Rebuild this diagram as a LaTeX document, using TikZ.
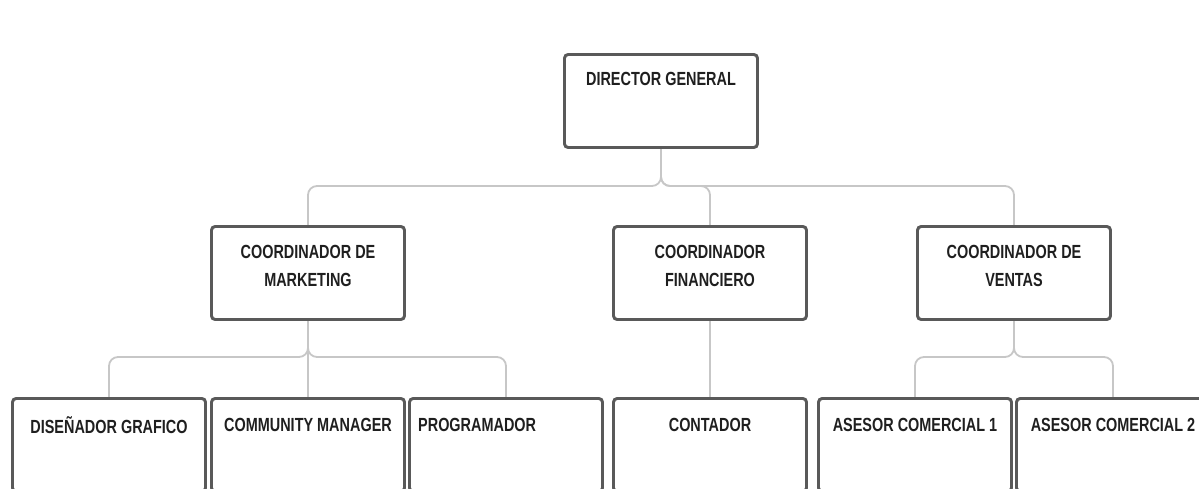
\documentclass[tikz,border=0pt]{standalone}
\usepackage{fontspec}
\setmainfont{Liberation Sans}[FakeStretch=0.76]
\begin{document}
\begin{tikzpicture}[x=1pt,y=-1pt,
  box/.style={draw=black!65,line width=1.8pt,fill=white,rounded corners=3.5pt,minimum width=192pt,minimum height=92pt,inner sep=0pt},
  lbl/.style={font=\bfseries\fontsize{19}{28}\selectfont,text=black!88,align=center,inner sep=0pt},
  conn/.style={draw=black!22,line width=1.8pt,rounded corners=9pt}]
\useasboundingbox (0,0) rectangle (1199,489);
\clip (0,0) rectangle (1199,489);
\coordinate (busA) at (0,186);
\coordinate (busM) at (0,357);
\coordinate (busV) at (0,357);
% boxes
\node[box] (dg) at (661,101) {};
\node[box] (mk) at (308,273) {};
\node[box] (fi) at (710,273) {};
\node[box] (ve) at (1014,273) {};
\node[box] (d1) at (109,445) {};
\node[box] (d2) at (308,445) {};
\node[box] (d3) at (506,445) {};
\node[box] (c1) at (710,445) {};
\node[box] (v1) at (915,445) {};
\node[box] (v2) at (1113,445) {};
% connectors
\draw[conn] (dg.south) -- (dg.south |- busA) -- (mk.north |- busA) -- (mk.north);
\draw[conn] (dg.south) -- (dg.south |- busA) -- (ve.north |- busA) -- (ve.north);
\draw[conn] (dg.south) -- (dg.south |- busA) -- (fi.north |- busA) -- (fi.north);
\draw[conn] (mk.south) -- (mk.south |- busM) -- (d1.north |- busM) -- (d1.north);
\draw[conn] (mk.south) -- (mk.south |- busM) -- (d3.north |- busM) -- (d3.north);
\draw[conn] (mk.south) -- (d2.north);
\draw[conn] (fi.south) -- (c1.north);
\draw[conn] (ve.south) -- (ve.south |- busV) -- (v1.north |- busV) -- (v1.north);
\draw[conn] (ve.south) -- (ve.south |- busV) -- (v2.north |- busV) -- (v2.north);
% box borders over line ends
\foreach \n in {dg,mk,fi,ve,d1,d2,d3,c1,v1,v2}
  \draw[draw=black!65,line width=1.8pt,rounded corners=3.5pt] (\n.north west) rectangle (\n.south east);
% texts
\node[lbl] (dgt) at (661,79) {DIRECTOR GENERAL};
\node[lbl] (mkt) at (308,266) {COORDINADOR DE\\MARKETING};
\node[lbl] (fit) at (710,266) {COORDINADOR\\FINANCIERO};
\node[lbl] (vet) at (1014,266) {COORDINADOR DE\\VENTAS};
\node[lbl] (d1t) at (109,425) {DISEÑADOR GRAFICO};
\node[lbl] (d2t) at (308,425) {COMMUNITY MANAGER};
\node[lbl,anchor=west] (d3t) at (418,425) {PROGRAMADOR};
\node[lbl] (c1t) at (710,425) {CONTADOR};
\node[lbl] (v1t) at (915,425) {ASESOR COMERCIAL 1};
\node[lbl] (v2t) at (1113,425) {ASESOR COMERCIAL 2};
\end{tikzpicture}
\end{document}
